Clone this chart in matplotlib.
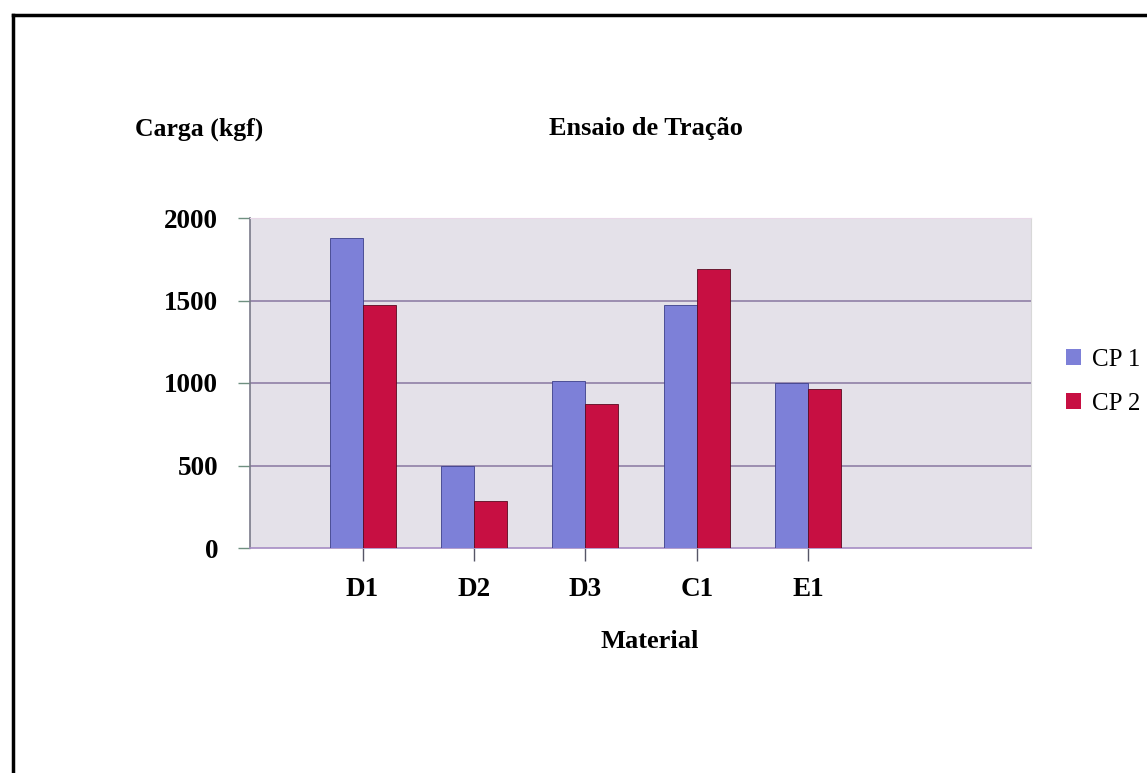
import matplotlib
matplotlib.use("Agg")
import matplotlib.pyplot as plt
from matplotlib.patches import Rectangle
from matplotlib.lines import Line2D
import numpy as np

# Tensile test results per material
materials = ["D1", "D2", "D3", "C1", "E1"]
cp1 = [1880, 500, 1015, 1475, 1000]
cp2 = [1473, 282, 872, 1688, 962]
series_names = ["CP 1", "CP 2"]
yticks = [0, 500, 1000, 1500, 2000]

serif = ["Liberation Serif", "DejaVu Serif"]
col_cp1 = "#7d80d8"
col_cp2 = "#c70f42"

fig = plt.figure(figsize=(11.47, 7.73), dpi=100)
fig.patch.set_facecolor("white")

ax = fig.add_axes([250 / 1147, 1 - 548 / 773, (1031 - 250) / 1147, (548 - 218) / 773])
ax.set_facecolor("#e4e1e9")

x = np.arange(len(materials))
w = 0.296
ax.bar(x - w / 2, cp1, width=w, color=col_cp1, edgecolor="#3c3f8a", linewidth=0.6, zorder=3)
ax.bar(x + w / 2, cp2, width=w, color=col_cp2, edgecolor="#5a0a20", linewidth=0.6, zorder=3)

ax.set_xlim(-1.01, 6.0)
ax.set_ylim(0, 2000)

for yv in yticks[1:]:
    ax.axhline(yv, color="#8f7fa6", linewidth=1.2, zorder=1)

ax.set_yticks(yticks)
ax.set_yticklabels([str(v) for v in yticks], fontfamily=serif, fontweight="bold", fontsize=19.5)
ax.set_xticks(x)
ax.set_xticklabels(materials, fontfamily=serif, fontweight="bold", fontsize=19.5)
ax.tick_params(axis="y", direction="out", length=9, width=1, color="#6f8f80", pad=14)
ax.tick_params(axis="x", direction="out", length=9, width=1, color="#555566", pad=12)

ax.spines["left"].set_color("#7a7a8a")
ax.spines["left"].set_linewidth(1.2)
ax.spines["bottom"].set_color("#a68cc4")
ax.spines["bottom"].set_linewidth(1.2)
ax.spines["top"].set_color("#e8d8e8")
ax.spines["right"].set_color("#d8d8d8")

# Titles
fig.text(135 / 1147, 1 - 129 / 773, "Carga (kgf)", fontfamily=serif, fontweight="bold",
         fontsize=18.5, ha="left", va="center")
fig.text(646 / 1147, 1 - 129 / 773, "Ensaio de Tração", fontfamily=serif, fontweight="bold",
         fontsize=19, ha="center", va="center")
fig.text(650 / 1147, 1 - 641 / 773, "Material", fontfamily=serif, fontweight="bold",
         fontsize=19, ha="center", va="center")

# Legend
handles = [Rectangle((0, 0), 1, 1, facecolor=col_cp1, edgecolor="none"),
           Rectangle((0, 0), 1, 1, facecolor=col_cp2, edgecolor="none")]
leg = fig.legend(handles, series_names, loc="center left",
                 bbox_to_anchor=(1066 / 1147, 1 - 382 / 773),
                 frameon=False, prop={"family": serif, "size": 18},
                 handlelength=0.6, handleheight=0.6, handletextpad=0.45,
                 labelspacing=0.88, borderaxespad=0, borderpad=0)

# Outer frame (left and top edges)
fig.add_artist(Line2D([13 / 1147, 13 / 1147], [0, 1 - 15 / 773],
                      transform=fig.transFigure, color="black", linewidth=2.5))
fig.add_artist(Line2D([13 / 1147, 1], [1 - 15 / 773, 1 - 15 / 773],
                      transform=fig.transFigure, color="black", linewidth=2.5))

fig.savefig("out.png", dpi=100)
